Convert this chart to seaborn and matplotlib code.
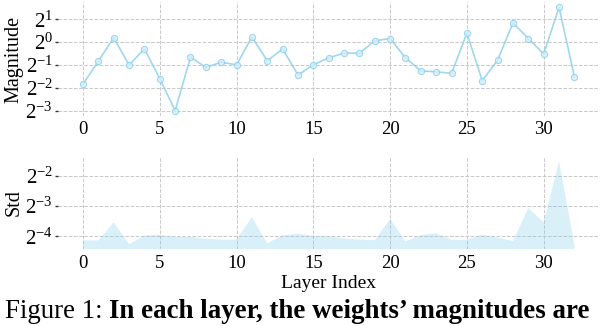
import matplotlib
matplotlib.use("Agg")
import matplotlib.pyplot as plt
import numpy as np
import seaborn as sns

# log2 of per-layer values
layers = list(range(33))
magnitude_log2 = [-1.83, -0.83, 0.20, -1.00, -0.29, -1.59, -2.99, -0.65, -1.10, -0.87,
                  -0.99, 0.22, -0.81, -0.29, -1.43, -0.99, -0.68, -0.48, -0.48, 0.06,
                  0.16, -0.68, -1.25, -1.29, -1.36, 0.39, -1.68, -0.78, 0.84, 0.16,
                  -0.51, 1.52, -1.51]
std_log2 = [-4.13, -4.14, -3.54, -4.26, -3.97, -3.95, -4.02, -4.02, -4.08, -4.11,
            -4.11, -3.37, -4.23, -3.97, -3.92, -3.98, -4.00, -4.07, -4.11, -4.13,
            -3.43, -4.17, -3.96, -3.90, -4.12, -4.11, -3.95, -4.04, -4.16, -3.07,
            -3.54, -1.51, -4.28]
mag_ticks = [-3, -2, -1, 0, 1]
std_ticks = [-4, -3, -2]
x_ticks = [0, 5, 10, 15, 20, 25, 30]

magnitude = 2.0 ** np.array(magnitude_log2)
std = 2.0 ** np.array(std_log2)

sns.set_theme(style="whitegrid")
plt.rcParams["font.family"] = ["Liberation Serif", "DejaVu Serif"]
plt.rcParams["mathtext.fontset"] = "stix"
plt.rcParams["grid.linestyle"] = "--"
plt.rcParams["grid.color"] = "#c8c8c8"
plt.rcParams["grid.linewidth"] = 0.7
plt.rcParams["text.color"] = "black"
plt.rcParams["axes.labelcolor"] = "black"
plt.rcParams["xtick.labelcolor"] = "black"
plt.rcParams["ytick.labelcolor"] = "black"

fig = plt.figure(figsize=(6.06, 3.26), dpi=100)
ax1 = fig.add_axes([0.0964, 0.6445, 0.892, 0.3488])
ax2 = fig.add_axes([0.0964, 0.2353, 0.892, 0.2840])

line_color = "#87ceeb"

sns.lineplot(x=layers, y=magnitude, ax=ax1, color=line_color, alpha=0.8,
             marker="o", markersize=4.5, markerfacecolor="#d6eef8",
             markeredgecolor=line_color, linewidth=1.2)
ax1.set_yscale("log", base=2)
ax1.set_yticks([2.0 ** k for k in mag_ticks])
ax1.set_ylabel("Magnitude", fontsize=14.5)
ax1.yaxis.set_label_coords(-0.064, 0.5)

ax2.fill_between(layers, std, color=line_color, alpha=0.3, linewidth=0)
ax2.set_yscale("log", base=2)
ax2.set_yticks([2.0 ** k for k in std_ticks])
ax2.set_ylim(2 ** -4.43, 2 ** -1.37)
ax2.set_ylabel("Std", fontsize=14.5)
ax2.yaxis.set_label_coords(-0.064, 0.5)

for ax in (ax1, ax2):
    ax.set_xlim(-1.6, 33.6)
    ax.set_xticks(x_ticks)
    ax.minorticks_off()
    ax.tick_params(axis="x", labelsize=13.5, length=0, pad=4)
    ax.tick_params(axis="y", labelsize=15, length=2, width=1, color="#333333",
                   left=True, pad=2)
    ax.grid(True, which="major")
    sns.despine(ax=ax, left=True, bottom=True)

fig.text(0.5424, 1 - 283 / 326, "Layer Index", ha="center", va="center", fontsize=14)

cap1 = fig.text(0.008, 0.046, "Figure 1: ", ha="left", va="center", fontsize=19.4)
fig.canvas.draw()
bb = cap1.get_window_extent(renderer=fig.canvas.get_renderer())
x_next = bb.x1 / fig.bbox.width
fig.text(x_next, 0.046, "In each layer, the weights\u2019 magnitudes are",
         ha="left", va="center", fontsize=19.4, fontweight="bold")

fig.savefig("out.png", dpi=100)
